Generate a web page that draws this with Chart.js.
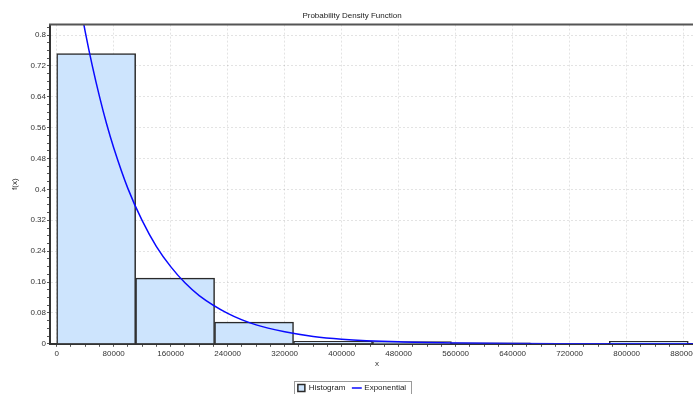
<!doctype html>
<html>
    <head>
        <meta charset="UTF-8" />
        <title>Probability Density Function</title>
        <script src="https://cdn.jsdelivr.net/npm/chart.js"></script>
        <style>
            html, body { margin: 0; padding: 0; background: #fff; overflow: hidden; }
            #wrap { width: 704px; height: 394px; }
        </style>
    </head>

    <body>
        <div id="wrap"><canvas id="pdfChart" width="704" height="394"></canvas></div>

        <script>
        // Histogram bins (edges) and relative frequencies
        var binEdges = [0, 110800, 221600, 332400, 443200, 554000, 664800, 775600, 886400];
        var binHeights = [0.752, 0.170, 0.056, 0.0067, 0.0055, 0.0022, 0.0011, 0.0062];

        // Fitted exponential curve, sampled points
        var expX = [20000, 30000, 40000, 50000, 60000, 70000, 80000, 100000, 120000, 140000, 160000,
                    180000, 200000, 240000, 280000, 320000, 360000, 400000, 480000, 560000, 640000,
                    720000, 800000, 910000];
        var expY = [1.022, 0.909, 0.809, 0.720, 0.641, 0.570, 0.508, 0.402, 0.319, 0.252, 0.200,
                    0.158, 0.125, 0.079, 0.049, 0.031, 0.019, 0.012, 0.005, 0.002, 0.0007,
                    0.0003, 0.0001, 0];

        // Labelled ticks on each axis
        var xMajorTicks = [0, 80000, 160000, 240000, 320000, 400000, 480000, 560000, 640000, 720000, 800000, 880000];
        var yMajorTicks = [0, 0.08, 0.16, 0.24, 0.32, 0.4, 0.48, 0.56, 0.64, 0.72, 0.8];

        var xRange = [-9400, 908500];
        var yRange = [0, 0.827];

        var gridColor = 'rgba(0, 0, 0, 0.11)';
        var axisColor = '#333';

        Chart.defaults.font.family = "'Liberation Sans', Arial, sans-serif";
        Chart.defaults.font.size = 8;
        Chart.defaults.color = '#333';

        function isMajor(v, majors) {
            for (var i = 0; i < majors.length; i++) {
                if (Math.abs(majors[i] - v) < 1e-9 * Math.max(1, Math.abs(v))) return true;
            }
            return false;
        }

        // majors plus (parts - 1) small ticks between each pair, inside [min, max]
        function withMinors(majors, parts, min, max) {
            var step = (majors[1] - majors[0]) / parts;
            var out = [];
            for (var k = -parts; k <= majors.length * parts + parts; k++) {
                var v = Math.round((majors[0] + k * step) * 1e6) / 1e6;
                if (v >= min && v <= max) out.push({ value: v });
            }
            return out;
        }

        // top border line of the plot and a frame round the legend
        var framePlugin = {
            id: 'frame',
            afterDraw: function(chart) {
                var ctx = chart.ctx, area = chart.chartArea;
                ctx.save();
                ctx.strokeStyle = '#555';
                ctx.lineWidth = 2;
                ctx.beginPath();
                ctx.moveTo(area.left - 1, area.top);
                ctx.lineTo(chart.width, area.top);
                ctx.stroke();

                var boxes = chart.legend.legendHitBoxes;
                if (boxes && boxes.length) {
                    var first = boxes[0], last = boxes[boxes.length - 1];
                    var l = Math.round(first.left - 4), r = Math.round(last.left + last.width + 5);
                    var t = Math.round(first.top - 3);
                    ctx.lineWidth = 1;
                    ctx.strokeStyle = '#9a9a9a';
                    ctx.strokeRect(l + 0.5, t + 0.5, r - l, 14);
                }
                ctx.restore();
            }
        };

        var ctx = document.getElementById('pdfChart').getContext('2d');
        var pdfChart = new Chart(ctx, {
            type: 'bar',
            data: {
                datasets: [{
                    type: 'bar',
                    label: 'Histogram',
                    xAxisID: 'xb',
                    yAxisID: 'y',
                    data: binHeights.map(function(h, i) {
                        return { x: (binEdges[i] + binEdges[i + 1]) / 2, y: h };
                    }),
                    backgroundColor: '#cde4fd',
                    borderColor: '#2a2a2a',
                    borderWidth: 1.5,
                    barPercentage: 1,
                    categoryPercentage: 1,
                    grouped: false,
                    pointStyle: 'rect',
                    order: 2
                }, {
                    type: 'line',
                    label: 'Exponential',
                    xAxisID: 'x',
                    yAxisID: 'y',
                    data: expX.map(function(x, i) { return { x: x, y: expY[i] }; }),
                    borderColor: '#0a0aff',
                    backgroundColor: '#0a0aff',
                    borderWidth: 1.5,
                    pointRadius: 0,
                    fill: false,
                    cubicInterpolationMode: 'monotone',
                    clip: 0,
                    pointStyle: 'line',
                    order: 1
                }]
            },
            options: {
                responsive: false,
                animation: false,
                devicePixelRatio: 1,
                layout: { padding: { left: 0, right: 0, top: 0, bottom: -8 } },
                plugins: {
                    title: {
                        display: true,
                        text: 'Probability Density Function',
                        font: { size: 8, weight: 'normal' },
                        color: '#222',
                        padding: { top: 11, bottom: 4 }
                    },
                    legend: {
                        position: 'bottom',
                        labels: {
                            usePointStyle: true,
                            boxWidth: 7,
                            boxHeight: 7,
                            padding: 8,
                            color: '#222',
                            font: { size: 8 },
                            sort: function(a, b) { return a.datasetIndex - b.datasetIndex; }
                        }
                    },
                    tooltip: { enabled: false }
                },
                scales: {
                    x: {
                        type: 'linear',
                        position: 'bottom',
                        offset: false,
                        min: xRange[0],
                        max: xRange[1],
                        afterBuildTicks: function(scale) {
                            scale.ticks = withMinors(xMajorTicks, 4, scale.min, scale.max);
                        },
                        ticks: {
                            autoSkip: false,
                            maxRotation: 0,
                            minRotation: 0,
                            padding: 2,
                            color: '#333',
                            callback: function(v) { return isMajor(v, xMajorTicks) ? String(v) : ''; }
                        },
                        grid: {
                            offset: false,
                            color: function(c) {
                                return c.tick && isMajor(c.tick.value, xMajorTicks) ? gridColor : 'transparent';
                            },
                            tickColor: '#555',
                            tickLength: 3,
                            lineWidth: 1
                        },
                        border: { color: axisColor, width: 2, dash: [2, 2] },
                        title: { display: true, text: 'x', color: '#333', padding: { top: -1, bottom: 7 } }
                    },
                    xb: {
                        type: 'linear',
                        axis: 'x',
                        position: 'bottom',
                        display: false,
                        offset: false,
                        grid: { offset: false },
                        min: xRange[0],
                        max: xRange[1],
                        afterBuildTicks: function(scale) {
                            scale.ticks = binEdges.map(function(e) { return { value: e }; });
                        }
                    },
                    y: {
                        type: 'linear',
                        position: 'left',
                        min: yRange[0],
                        max: yRange[1],
                        afterBuildTicks: function(scale) {
                            scale.ticks = withMinors(yMajorTicks, 4, scale.min, scale.max);
                        },
                        afterFit: function(scale) { scale.width = 50; },
                        ticks: {
                            autoSkip: false,
                            padding: 1,
                            color: '#333',
                            callback: function(v) {
                                return isMajor(v, yMajorTicks) ? String(Number(v.toFixed(2))) : '';
                            }
                        },
                        grid: {
                            color: function(c) {
                                return c.tick && isMajor(c.tick.value, yMajorTicks) ? gridColor : 'transparent';
                            },
                            tickColor: '#555',
                            tickLength: 3,
                            lineWidth: 1
                        },
                        border: { color: axisColor, width: 2, dash: [2, 2] },
                        title: { display: true, text: 'f(x)', color: '#333', padding: { top: 10, bottom: 0 } }
                    }
                }
            },
            plugins: [framePlugin]
        });
        </script>
    </body>
</html>
